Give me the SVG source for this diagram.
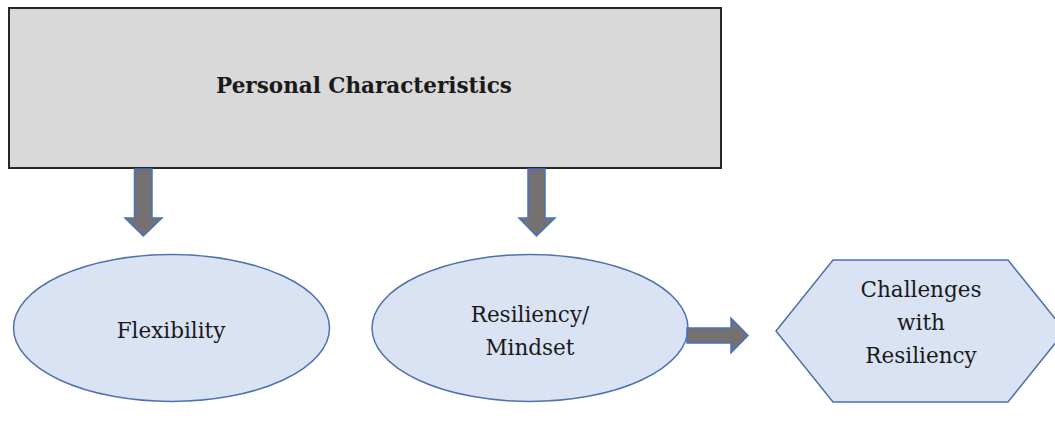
<svg xmlns="http://www.w3.org/2000/svg" width="1055" height="426" viewBox="0 0 1055 426">
  <style>
    .box { fill: #d9d9d9; stroke: #262626; stroke-width: 2; }
    .shape { fill: #dae3f3; stroke: #4f72ad; stroke-width: 1.5; }
    .arrow { fill: #767171; stroke: #4472c4; stroke-width: 1.5; stroke-linejoin: miter; }
    .lbl { font-family: "DejaVu Serif", "Liberation Serif", serif; font-size: 21.5px; fill: #1a1a1a; text-anchor: middle; }
    .title { font-weight: bold; }
  </style>
  <rect width="1055" height="426" fill="#ffffff"/>

  <g id="personal-characteristics">
    <rect class="box" x="9" y="8" width="712" height="160"/>
    <text class="lbl title" x="364" y="93">Personal Characteristics</text>
  </g>

  <g id="flexibility">
    <ellipse class="shape" cx="171.5" cy="328" rx="158" ry="73.5"/>
    <text class="lbl" x="171" y="338">Flexibility</text>
  </g>

  <g id="resiliency-mindset">
    <ellipse class="shape" cx="530" cy="328" rx="158" ry="73.5"/>
    <text class="lbl" x="530" y="322">Resiliency/</text>
    <text class="lbl" x="530" y="355">Mindset</text>
  </g>

  <g id="challenges">
    <polygon class="shape" points="776,331 833,260 1008,260 1065,331 1008,402 833,402"/>
    <text class="lbl" x="921" y="297">Challenges</text>
    <text class="lbl" x="921" y="330">with</text>
    <text class="lbl" x="921" y="363">Resiliency</text>
  </g>

  <g id="connectors">
    <polygon class="arrow" points="134.5,169 152,169 152,218 162,218 143.3,236 125,218 134.5,218"/>
    <polygon class="arrow" points="528,169 545,169 545,218 555,218 536.5,236 519,218 528,218"/>
    <polygon class="arrow" points="687,328 731,328 731,318 748,335.5 731,353 731,343 687,343"/>
  </g>
</svg>
